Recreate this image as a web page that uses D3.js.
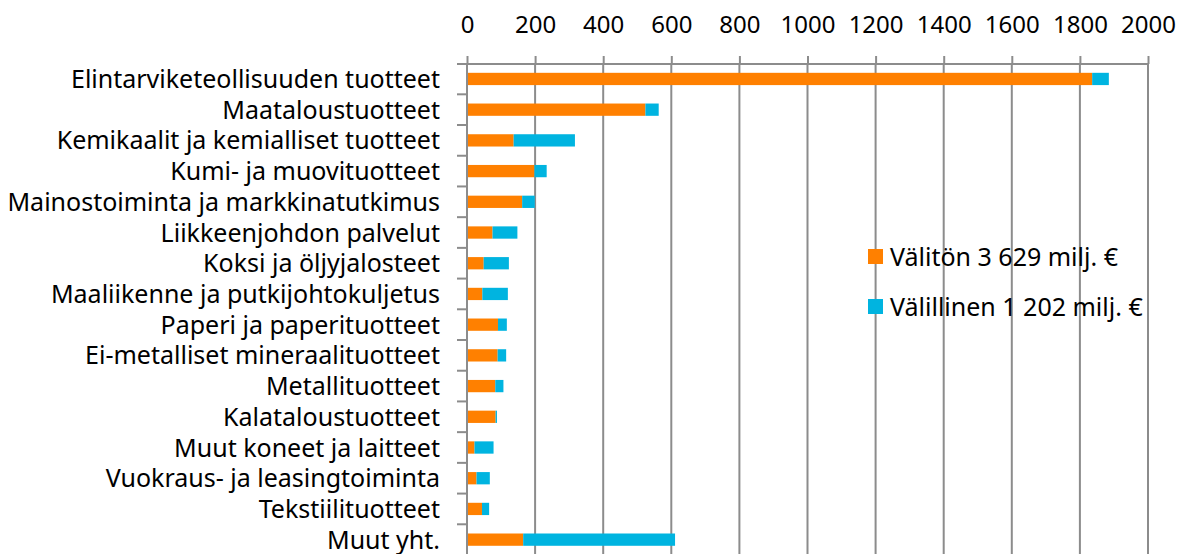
<!DOCTYPE html>
<html>
<head>
<meta charset="utf-8">
<script src="https://d3js.org/d3.v7.min.js"></script>
<style>
  body { margin: 0; background: #fff; }
  svg text { font-family: "Noto Sans", sans-serif; fill: #000; }
</style>
</head>
<body>
<div id="chart"></div>
<script>

// categories, top to bottom
var categories = [
    "Elintarviketeollisuuden tuotteet",
    "Maataloustuotteet",
    "Kemikaalit ja kemialliset tuotteet",
    "Kumi- ja muovituotteet",
    "Mainostoiminta ja markkinatutkimus",
    "Liikkeenjohdon palvelut",
    "Koksi ja öljyjalosteet",
    "Maaliikenne ja putkijohtokuljetus",
    "Paperi ja paperituotteet",
    "Ei-metalliset mineraalituotteet",
    "Metallituotteet",
    "Kalataloustuotteet",
    "Muut koneet ja laitteet",
    "Vuokraus- ja leasingtoiminta",
    "Tekstiilituotteet",
    "Muut yht."
];

var direct = [1836, 524, 137, 198, 162, 75, 49, 45, 91, 90, 83, 84, 22, 28, 44, 165];
var indirect = [49, 39, 180, 36, 37, 73, 74, 75, 26, 25, 24, 4, 56, 39, 21, 446];

var seriesNames = ["Välitön 3 629 milj. €", "Välillinen 1 202 milj. €"];
var seriesColors = ["#ff8000", "#00b4e0"];

var xTicks = [0, 200, 400, 600, 800, 1000, 1200, 1400, 1600, 1800, 2000];

var width = 1179,
    height = 554;

var svg = d3.select("#chart").append("svg")
    .attr("width", width)
    .attr("height", height);

var x = d3.scaleLinear()
    .domain([0, 2000])
    .range([467, 1148]);

var y = d3.scaleBand()
    .domain(categories)
    .range([63.6, 555])
    .paddingInner(0.6)
    .paddingOuter(0.3);

var gridColor = "#8c8c8c";

// vertical gridlines
svg.append("g").selectAll("line")
    .data(xTicks.slice(1))
    .enter().append("line")
    .attr("x1", function (d) { return x(d); })
    .attr("x2", function (d) { return x(d); })
    .attr("y1", 64)
    .attr("y2", height + 2)
    .attr("stroke", gridColor)
    .attr("stroke-width", 2);

// top axis
var xAxis = d3.axisTop(x)
    .tickValues(xTicks)
    .tickFormat(d3.format("d"))
    .tickSize(8)
    .tickSizeOuter(0)
    .tickPadding(23);

var gx = svg.append("g")
    .attr("transform", "translate(0,64)")
    .call(xAxis);
gx.select(".domain").remove();
gx.selectAll(".tick line").attr("stroke", gridColor).attr("stroke-width", 2);
gx.selectAll(".tick text")
    .style("font-size", "24px")
    .style("font-family", "'Noto Sans', sans-serif");

svg.append("line")
    .attr("x1", 457)
    .attr("x2", x(2000) + 1)
    .attr("y1", 64)
    .attr("y2", 64)
    .attr("stroke", gridColor)
    .attr("stroke-width", 2);

// left axis line + ticks between categories
svg.append("line")
    .attr("x1", x(0))
    .attr("x2", x(0))
    .attr("y1", 63)
    .attr("y2", height + 2)
    .attr("stroke", gridColor)
    .attr("stroke-width", 2);

var step = y.step();
svg.append("g").selectAll("line")
    .data(categories.slice(1))
    .enter().append("line")
    .attr("x1", x(0) - 10)
    .attr("x2", x(0))
    .attr("y1", function (d) { return y(d) - (step - y.bandwidth()) / 2; })
    .attr("y2", function (d) { return y(d) - (step - y.bandwidth()) / 2; })
    .attr("stroke", gridColor)
    .attr("stroke-width", 2);

// category labels
svg.append("g").selectAll("text")
    .data(categories)
    .enter().append("text")
    .attr("x", 440)
    .attr("y", function (d) { return y(d) + y.bandwidth() / 2; })
    .attr("dy", "0.36em")
    .attr("text-anchor", "end")
    .style("font-size", "25px")
    .text(function (d) { return d; });

// stacked bars
var rows = categories.map(function (c, i) {
    return { cat: c, direct: direct[i], indirect: indirect[i] };
});

svg.append("g").selectAll("rect")
    .data(rows)
    .enter().append("rect")
    .attr("x", x(0) + 1)
    .attr("y", function (d) { return y(d.cat); })
    .attr("width", function (d) { return x(d.direct) - x(0) - 1; })
    .attr("height", y.bandwidth())
    .attr("fill", seriesColors[0]);

svg.append("g").selectAll("rect")
    .data(rows)
    .enter().append("rect")
    .attr("x", function (d) { return x(d.direct); })
    .attr("y", function (d) { return y(d.cat); })
    .attr("width", function (d) { return x(d.direct + d.indirect) - x(d.direct); })
    .attr("height", y.bandwidth())
    .attr("fill", seriesColors[1]);

// legend
var legend = svg.append("g").selectAll("g")
    .data(seriesNames)
    .enter().append("g")
    .attr("transform", function (d, i) { return "translate(868," + (249 + i * 50) + ")"; });

legend.append("rect")
    .attr("width", 15)
    .attr("height", 15)
    .attr("fill", function (d, i) { return seriesColors[i]; });

legend.append("text")
    .attr("x", 22)
    .attr("y", 8)
    .attr("dy", "0.36em")
    .style("font-size", "25px")
    .text(function (d) { return d; });

</script>
</body>
</html>
